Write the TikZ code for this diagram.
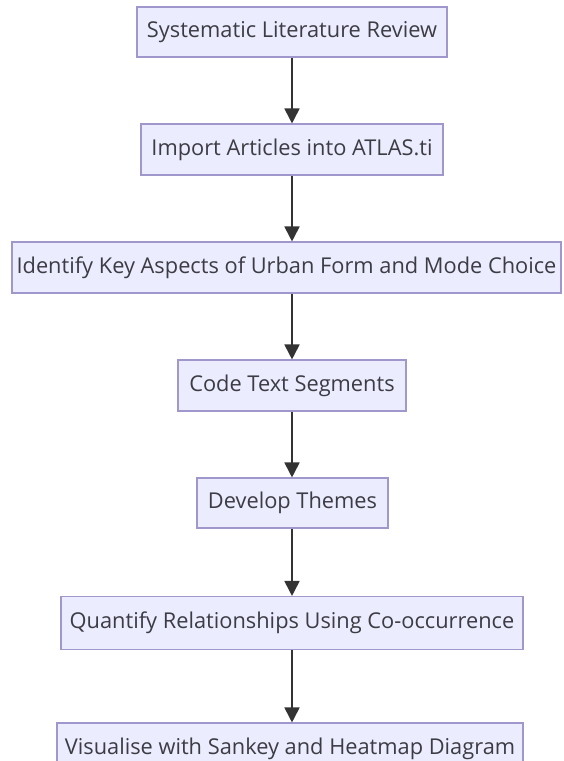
\documentclass[tikz,border=0pt]{standalone}
\usepackage{fontspec}
\setmainfont{Open Sans}
\usetikzlibrary{arrows.meta}
\definecolor{boxfill}{HTML}{ECECFF}
\definecolor{boxline}{HTML}{A097CC}
\definecolor{ink}{HTML}{333333}
\definecolor{txt}{HTML}{3C3C44}
\begin{document}
\begin{tikzpicture}[x=1pt,y=-1pt,
  stepbox/.style={draw=boxline,fill=boxfill,line width=1.1pt,inner sep=0pt,
    text=txt,font=\fontsize{21.8}{26}\selectfont,anchor=center},
  arr/.style={draw=ink,line width=1.8pt,-{Triangle[length=15pt,width=15pt]}}]
\useasboundingbox (0,0) rectangle (563,761);
\clip (0,0) rectangle (563,761);
\fill[white] (0,0) rectangle (563,761);
\node[stepbox,minimum width=310pt,minimum height=50pt] (b1) at (292,32) {Systematic Literature Review};
\node[stepbox,minimum width=302pt,minimum height=51pt] (b2) at (292,149.5) {Import Articles into ATLAS.ti};
\node[stepbox,minimum width=549pt,minimum height=51pt] (b3) at (286.5,267.5) {Identify Key Aspects of Urban Form and Mode Choice};
\node[stepbox,minimum width=228pt,minimum height=51pt] (b4) at (292,385.5) {Code Text Segments};
\node[stepbox,minimum width=191pt,minimum height=50pt] (b5) at (292.5,503) {Develop Themes};
\node[stepbox,minimum width=462pt,minimum height=53pt] (b6) at (292,623) {Quantify Relationships Using Co-occurrence};
\node[stepbox,minimum width=466pt,minimum height=52pt] (b7) at (290,749) {Visualise with Sankey and Heatmap Diagram};
\draw[arr] (b1.south) -- (b2.north);
\draw[arr] (b2.south) -- (b2.south |- b3.north);
\draw[arr] (b4.north |- b3.south) -- (b4.north);
\draw[arr] (b4.south) -- (b4.south |- b5.north);
\draw[arr] (b5.south -| b4.south) -- (b4.south |- b6.north);
\draw[arr] (b6.south) -- (b6.south |- b7.north);
\end{tikzpicture}
\end{document}
